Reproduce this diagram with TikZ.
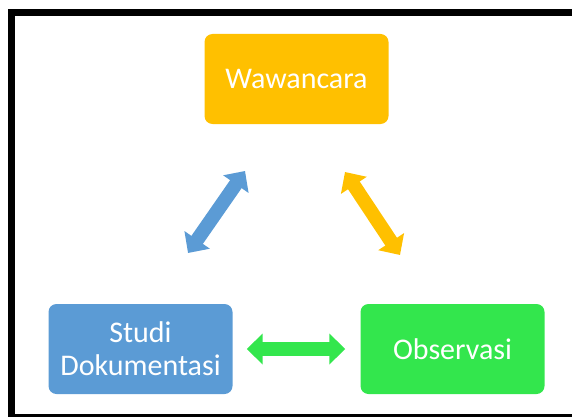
\documentclass[tikz,border=0pt]{standalone}
\usepackage{fontspec}
\setmainfont{Carlito}
\usepackage{tikz}
\usetikzlibrary{arrows.meta, positioning}

\definecolor{wawOrange}{HTML}{FFC000}
\definecolor{studiBlue}{HTML}{5B9BD5}
\definecolor{obsGreen}{HTML}{33E64D}

\begin{document}
\begin{tikzpicture}[
  x=1pt, y=-1pt,
  box/.style  = {rounded corners=8pt, minimum width=184pt, minimum height=90pt,
                 align=center, text=white, font=\fontsize{30}{33}\selectfont},
  link/.style = {line width=14pt,
                 {Triangle[width=30pt,length=16pt]}-{Triangle[width=30pt,length=16pt]}}
]
  \useasboundingbox (0,0) rectangle (572,417);

  % frame
  \fill[black] (8,9) rectangle (572,16);
  \fill[black] (8,9) rectangle (15,417);
  \fill[black] (8,414) rectangle (572,417);

  % boxes
  \node[box, fill=wawOrange] (waw) at (296.5,79) {Wawancara};
  \node[box, fill=studiBlue] (studi) at (140.5,349) {Studi\\Dokumentasi};
  \node[box, fill=obsGreen] (obs) at (452.5,349) {Observasi};

  % arrow ends
  \coordinate (blueLow) at (188,253);
  \coordinate (blueUp)  at (245,171);
  \coordinate (orgUp)   at (345,172);
  \coordinate (orgLow)  at (400,255);
  \coordinate (grL) at ([xshift=14pt]studi.east);
  \coordinate (grR) at ([xshift=-15pt]obs.west);

  % arrows
  \draw[link, studiBlue] (blueLow) -- (blueUp);
  \draw[link, wawOrange] (orgUp) -- (orgLow);
  \draw[link, obsGreen] (grL) -- (grR);
\end{tikzpicture}
\end{document}
